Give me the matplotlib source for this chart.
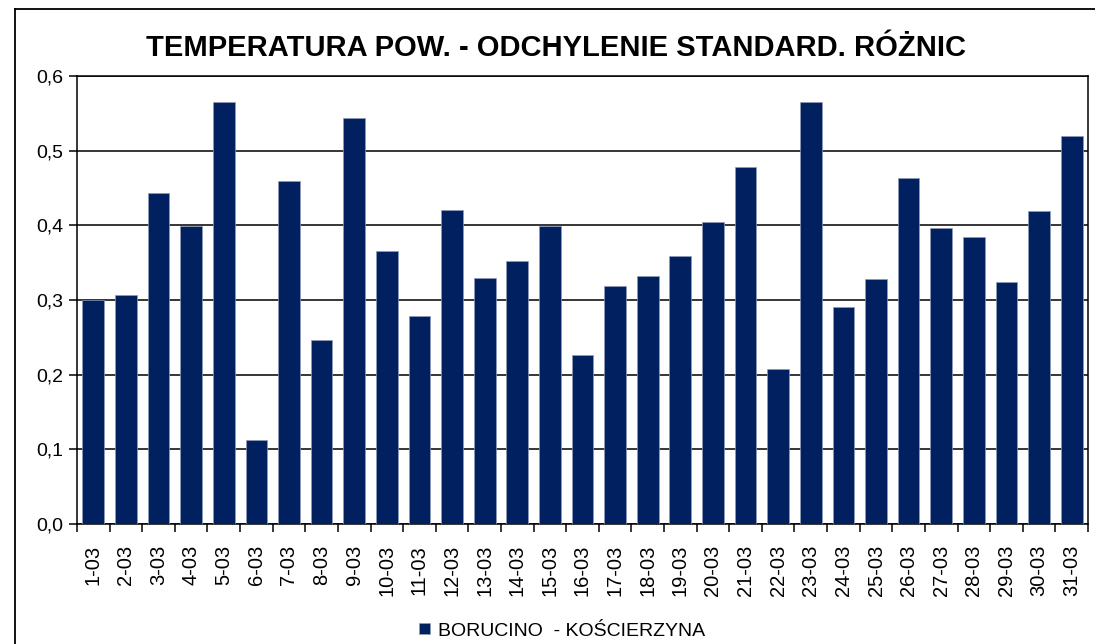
import matplotlib
matplotlib.use('Agg')
import matplotlib.pyplot as plt
import numpy as np
from matplotlib.lines import Line2D
from matplotlib.ticker import FixedLocator, NullFormatter, FuncFormatter

# data
days = ['%d-03' % d for d in range(1, 32)]
values = [0.300, 0.307, 0.443, 0.399, 0.565, 0.112, 0.460, 0.246, 0.544, 0.366,
          0.278, 0.421, 0.329, 0.352, 0.399, 0.226, 0.319, 0.332, 0.359, 0.405,
          0.478, 0.207, 0.565, 0.290, 0.328, 0.464, 0.397, 0.384, 0.324, 0.419,
          0.519]
series_name = 'BORUCINO  - KOŚCIERZYNA'
title = 'TEMPERATURA POW. - ODCHYLENIE STANDARD. RÓŻNIC'

plt.rcParams['font.family'] = ['Liberation Sans', 'DejaVu Sans']

fig = plt.figure(figsize=(10.95, 6.44), dpi=100)
# outer chart frame: only left and top edges are visible in the image
fx, fy = 15 / 1095, 1 - 9 / 644
fig.lines.append(Line2D([fx, fx], [-0.1, fy], transform=fig.transFigure, color='black', linewidth=1.3))
fig.lines.append(Line2D([fx, 1.1], [fy, fy], transform=fig.transFigure, color='black', linewidth=1.3))

ax = fig.add_axes([77 / 1095, 1 - 524 / 644, (1088 - 77) / 1095, (524 - 76) / 644])
x = np.arange(len(days))
bars = ax.bar(x, values, width=0.665, color='#012060', edgecolor='#8f9bb8', linewidth=0.5,
              zorder=3, label=series_name)

ax.set_xlim(-0.5, len(days) - 0.5)
ax.set_ylim(0, 0.6)
ax.set_yticks(np.arange(0, 0.61, 0.1))
ax.yaxis.set_major_formatter(FuncFormatter(lambda v, p: ('%.1f' % v).replace('.', ',')))
ax.grid(axis='y', color='black', linewidth=1.1, zorder=1)

# category labels at centers, tick marks at boundaries
ax.set_xticks(x)
ax.set_xticklabels(days, rotation=90, fontsize=14.5)
ax.tick_params(axis='x', which='major', length=0, pad=15)
ax.xaxis.set_minor_locator(FixedLocator(np.arange(-0.5, len(days), 1)))
ax.xaxis.set_minor_formatter(NullFormatter())
ax.tick_params(axis='x', which='minor', length=6, width=1.1, direction='out')
ax.tick_params(axis='y', labelsize=14, length=6, width=1.1, pad=4)

for s in ax.spines.values():
    s.set_linewidth(1.1)
    s.set_color('black')

fig.text(556 / 1095, 1 - 48 / 644, title, ha='center', va='center', fontsize=21, fontweight='bold')

leg = fig.legend(handles=[bars], labels=[series_name], loc='center', bbox_to_anchor=(562 / 1095, 1 - 631 / 644),
                 frameon=False, fontsize=14, handlelength=0.55, handleheight=0.55, handletextpad=0.4)

fig.savefig('out.png', dpi=100)
